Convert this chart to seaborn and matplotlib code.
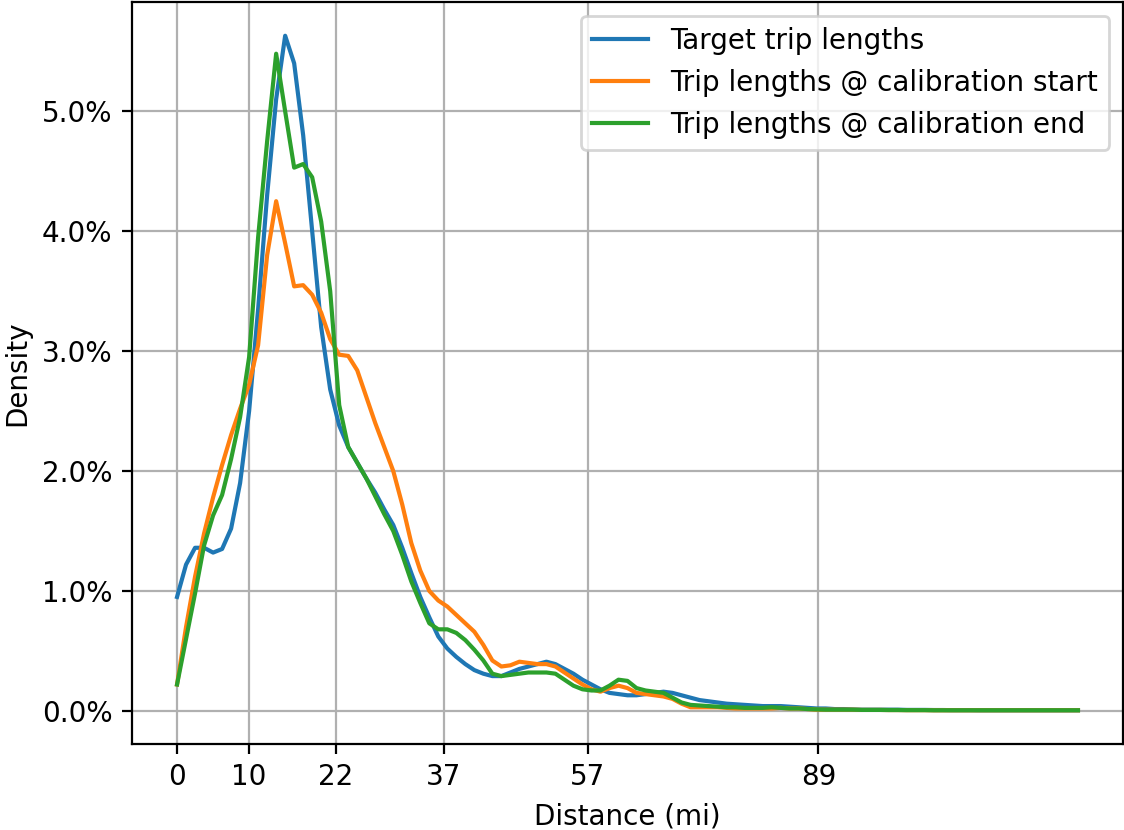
import numpy as np
import pandas as pd
import matplotlib
matplotlib.use("Agg")
import matplotlib.pyplot as plt
from matplotlib.ticker import PercentFormatter
import seaborn as sns

# Distance bins (miles), 1.25 mi apart
distance_mi = np.arange(101) * 1.25

# Trip-length densities in percent per bin
target_pct = [
    0.95, 1.22, 1.36, 1.36, 1.32, 1.35, 1.52, 1.90, 2.50, 3.35,
    4.30, 5.10, 5.63, 5.40, 4.80, 4.00, 3.20, 2.68, 2.38, 2.20,
    2.07, 1.94, 1.82, 1.68, 1.55, 1.36, 1.15, 0.95, 0.78, 0.62,
    0.52, 0.45, 0.39, 0.34, 0.31, 0.29, 0.29, 0.32, 0.35, 0.37,
    0.39, 0.41, 0.39, 0.35, 0.31, 0.26, 0.22, 0.18, 0.15, 0.14,
    0.13, 0.13, 0.14, 0.15, 0.16, 0.15, 0.13, 0.11, 0.09, 0.08,
    0.07, 0.06, 0.055, 0.05, 0.045, 0.04, 0.04, 0.04, 0.035, 0.03,
    0.025, 0.02, 0.02, 0.015, 0.015, 0.012, 0.01, 0.01, 0.01, 0.01,
    0.01, 0.008, 0.008, 0.008, 0.007, 0.007, 0.006, 0.006, 0.006, 0.005,
    0.005, 0.005, 0.005, 0.005, 0.005, 0.005, 0.005, 0.005, 0.005, 0.005,
    0.005,
]
start_pct = [
    0.22, 0.70, 1.12, 1.48, 1.78, 2.05, 2.30, 2.52, 2.72, 3.05,
    3.80, 4.25, 3.90, 3.54, 3.55, 3.47, 3.32, 3.10, 2.97, 2.96,
    2.84, 2.62, 2.40, 2.20, 2.00, 1.72, 1.40, 1.17, 1.00, 0.92,
    0.87, 0.80, 0.73, 0.66, 0.55, 0.42, 0.37, 0.38, 0.41, 0.40,
    0.39, 0.39, 0.37, 0.32, 0.27, 0.22, 0.18, 0.16, 0.19, 0.21,
    0.19, 0.15, 0.14, 0.13, 0.12, 0.10, 0.06, 0.03, 0.03, 0.03,
    0.03, 0.025, 0.02, 0.02, 0.02, 0.02, 0.02, 0.025, 0.02, 0.02,
    0.015, 0.01, 0.01, 0.01, 0.01, 0.01, 0.008, 0.008, 0.008, 0.007,
    0.007, 0.006, 0.006, 0.006, 0.005, 0.005, 0.005, 0.005, 0.005, 0.005,
    0.005, 0.005, 0.005, 0.005, 0.005, 0.005, 0.005, 0.005, 0.005, 0.005,
    0.005,
]
end_pct = [
    0.22, 0.60, 0.98, 1.38, 1.63, 1.80, 2.10, 2.45, 2.95, 3.95,
    4.75, 5.48, 5.00, 4.53, 4.56, 4.45, 4.08, 3.50, 2.55, 2.20,
    2.07, 1.94, 1.79, 1.64, 1.50, 1.30, 1.08, 0.90, 0.73, 0.68,
    0.68, 0.65, 0.59, 0.51, 0.42, 0.31, 0.29, 0.30, 0.31, 0.32,
    0.32, 0.32, 0.31, 0.26, 0.21, 0.18, 0.17, 0.17, 0.21, 0.26,
    0.25, 0.19, 0.17, 0.16, 0.15, 0.11, 0.07, 0.05, 0.045, 0.04,
    0.035, 0.03, 0.03, 0.025, 0.025, 0.025, 0.03, 0.025, 0.02, 0.02,
    0.015, 0.012, 0.01, 0.01, 0.01, 0.01, 0.008, 0.008, 0.008, 0.007,
    0.007, 0.006, 0.006, 0.006, 0.005, 0.005, 0.005, 0.005, 0.005, 0.005,
    0.005, 0.005, 0.005, 0.005, 0.005, 0.005, 0.005, 0.005, 0.005, 0.005,
    0.005,
]

series_labels = [
    "Target trip lengths",
    "Trip lengths @ calibration start",
    "Trip lengths @ calibration end",
]
x_ticks = [0, 10, 22, 37, 57, 89]

df = pd.concat(
    [
        pd.DataFrame({"distance": distance_mi, "density": vals, "series": lab})
        for lab, vals in zip(series_labels, [target_pct, start_pct, end_pct])
    ],
    ignore_index=True,
)

fig = plt.figure(figsize=(5.62, 4.15), dpi=200)
ax = fig.add_axes([132 / 1124, 86 / 830, 991 / 1124, 742 / 830])

sns.lineplot(
    data=df, x="distance", y="density", hue="series",
    hue_order=series_labels,
    palette=["#1f77b4", "#ff7f0e", "#2ca02c"],
    linewidth=1.5, ax=ax,
)

ax.grid(True, color="#b0b0b0", linewidth=0.8)
ax.set_axisbelow(True)
ax.set_xticks(x_ticks)
ax.set_xticklabels([str(t) for t in x_ticks])
ax.yaxis.set_major_formatter(PercentFormatter(xmax=100, decimals=1))
ax.set_xlabel("Distance (mi)")
ax.set_ylabel("Density")
ax.legend(loc="upper right", title=None)

fig.savefig("out.png", dpi=200)
